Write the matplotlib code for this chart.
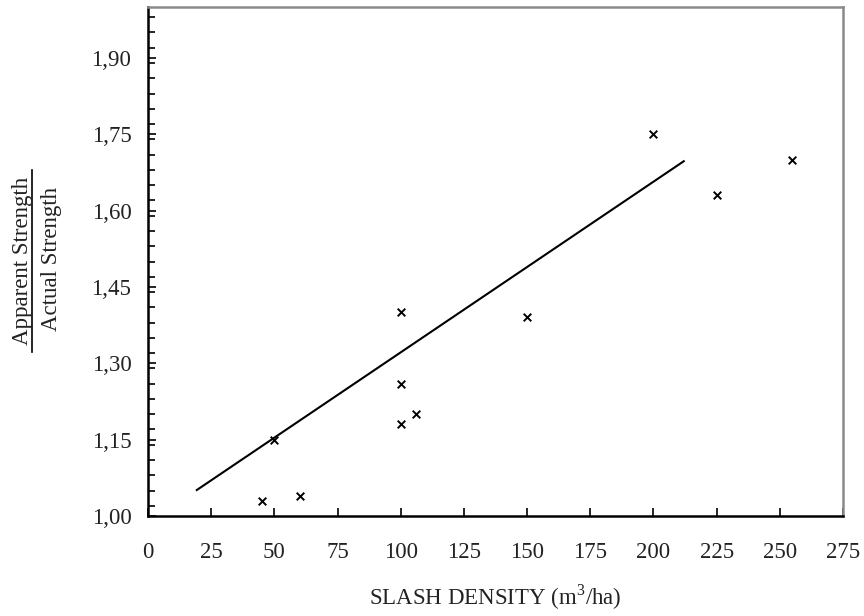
import matplotlib
matplotlib.use("Agg")
import matplotlib.pyplot as plt
from matplotlib.lines import Line2D
from matplotlib.ticker import MultipleLocator, FuncFormatter

# measured points (slash density vs strength ratio)
slash_density = [45, 50, 60, 100, 100, 100, 106, 150, 200, 225, 255]
strength_ratio = [1.03, 1.15, 1.04, 1.40, 1.26, 1.18, 1.20, 1.39, 1.75, 1.63, 1.70]

# fitted trend line end points
trend_x = [19.3, 212]
trend_y = [1.051, 1.697]

x_ticks = [0, 25, 50, 75, 100, 125, 150, 175, 200, 225, 250, 275]
y_ticks = [1.00, 1.15, 1.30, 1.45, 1.60, 1.75, 1.90]

plt.rcParams["font.family"] = ["Liberation Serif", "DejaVu Serif"]
plt.rcParams["mathtext.fontset"] = "custom"
plt.rcParams["mathtext.rm"] = "Liberation Serif"
text_col = "#222222"
fs = 16.5

fig = plt.figure(figsize=(8.64, 6.16), dpi=100)
ax = fig.add_axes([148 / 864, 1 - 516 / 616, 695 / 864, 509 / 616])

ax.scatter(slash_density, strength_ratio, marker="x", s=30, color="black",
           linewidths=1.4, zorder=3)
ax.plot(trend_x, trend_y, color="black", linewidth=1.5)

ax.set_xlim(0, 275)
ax.set_ylim(1.0, 2.0)
ax.set_xticks(x_ticks)
ax.set_yticks(y_ticks)
ax.yaxis.set_minor_locator(MultipleLocator(0.03))
ax.yaxis.set_major_formatter(FuncFormatter(lambda v, p: f"{v:.2f}".replace(".", ",")))

ax.tick_params(axis="both", which="both", direction="in", colors="black",
               labelcolor=text_col, labelsize=fs)
ax.tick_params(axis="x", which="major", length=5.5, width=1.2, pad=19)
ax.tick_params(axis="y", which="major", length=6, width=1.2, pad=12)
ax.tick_params(axis="y", which="minor", length=5, width=1.2)

for side in ("left", "bottom"):
    ax.spines[side].set_color("black")
    ax.spines[side].set_linewidth(1.8)
for side in ("top", "right"):
    ax.spines[side].set_color("#8a8a8a")
    ax.spines[side].set_linewidth(1.8)

fig.text((148 + 843) / 2 / 864, 1 - 597 / 616, "SLASH DENSITY (m$^3$/ha)",
         ha="center", va="center", fontsize=fs, color=text_col)

# fraction-style y label
fig.text(23 / 864, 1 - 261 / 616, "Apparent Strength", rotation=90, ha="center",
         va="center", fontsize=fs, color=text_col)
fig.text(52 / 864, 1 - 259 / 616, "Actual Strength", rotation=90, ha="center",
         va="center", fontsize=fs, color=text_col)
fig.add_artist(Line2D([32 / 864, 32 / 864], [1 - 352 / 616, 1 - 170 / 616],
                      transform=fig.transFigure, color="black", linewidth=1.2))

fig.savefig("out.png", dpi=100)
